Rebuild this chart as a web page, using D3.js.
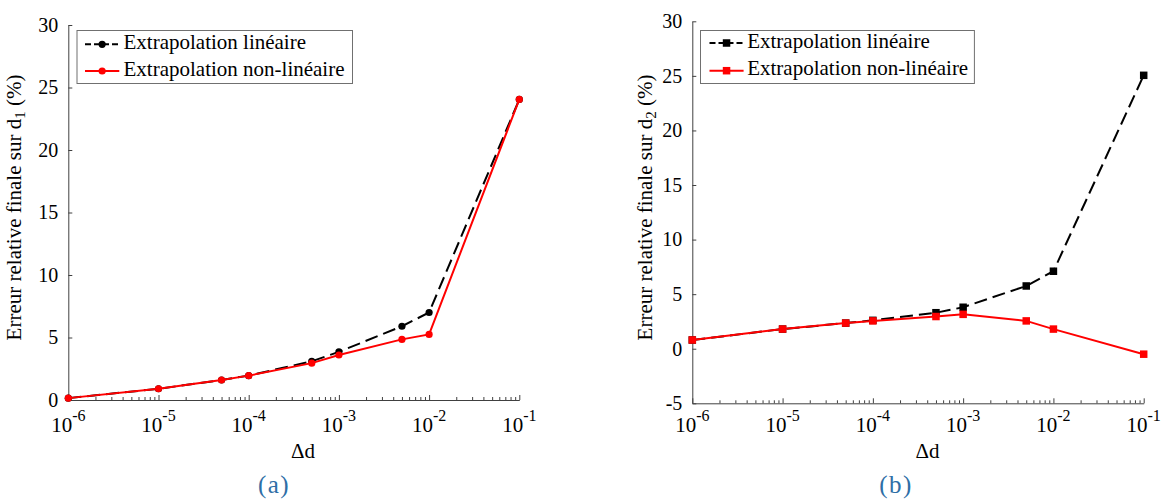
<!DOCTYPE html>
<html><head><meta charset="utf-8">
<script src="https://cdn.jsdelivr.net/npm/d3@7"></script>
</head>
<body style="margin:0;padding:0;background:#fff">
<svg id="chart" width="1163" height="501" style="display:block"></svg>
<script>
// ---- data ----
const deltaD = [1e-6, 1e-5, 5e-5, 1e-4, 5e-4, 1e-3, 5e-3, 1e-2, 1e-1];
const d1Lineaire    = [0.15, 0.9, 1.6, 1.95, 3.1, 3.85, 5.9, 7.0, 24.05];
const d1NonLineaire = [0.15, 0.9, 1.6, 1.95, 2.95, 3.6, 4.85, 5.25, 24.05];
const d2Lineaire    = [0.8, 1.8, 2.35, 2.6, 3.3, 3.8, 5.75, 7.1, 25.05];
const d2NonLineaire = [0.8, 1.8, 2.35, 2.55, 2.95, 3.15, 2.55, 1.8, -0.5];
const xTickExponents = [-6, -5, -4, -3, -2, -1];
const yTicksA = [0, 5, 10, 15, 20, 25, 30];
const yTicksB = [-5, 0, 5, 10, 15, 20, 25, 30];
const legendLabels = ["Extrapolation linéaire", "Extrapolation non-linéaire"];
const panelCaptions = ["(a)", "(b)"];
const xTitle = "Δd";

const FONT = "Liberation Serif";
const svg = d3.select("#chart");
svg.append("rect").attr("width",1163).attr("height",501).attr("fill","#fff");

const RED = "#ff0000", BLACK = "#000000", AXIS = "#404040";

function minorTicks(){
  const out=[];
  for(let e=-6;e<-1;e++){ for(let m=2;m<=9;m++) out.push(m*Math.pow(10,e)); }
  return out;
}

function panel(cfg){
  const g = svg.append("g");
  const x = d3.scaleLog().domain([1e-6,1e-1]).range(cfg.xr);
  const y = d3.scaleLinear().domain(cfg.yd).range(cfg.yr);

  // y axis
  const ya = g.append("g").attr("transform",`translate(${cfg.xr[0]},0)`)
    .call(d3.axisLeft(y).tickValues(cfg.yTicks).tickSizeInner(-4).tickSizeOuter(0).tickPadding(10).tickFormat(d=>String(d)));
  ya.attr("font-family",null).attr("font-size",null);
  ya.select(".domain").attr("stroke",AXIS);
  ya.selectAll(".tick line").attr("stroke",AXIS);
  ya.selectAll(".tick text").style("font-size","20px").attr("fill","#000");

  // x axis (major + minor ticks)
  const y0 = cfg.yr[0];
  const xa = g.append("g").attr("transform",`translate(0,${y0})`)
    .call(d3.axisBottom(x).tickValues(xTickExponents.map(e=>Math.pow(10,e))).tickSizeInner(-5).tickSizeOuter(0).tickFormat(""));
  xa.select(".domain").attr("stroke",AXIS);
  xa.selectAll(".tick line").attr("stroke",AXIS);
  xa.selectAll(".tick text").remove();
  const xm = g.append("g").attr("transform",`translate(0,${y0})`)
    .call(d3.axisBottom(x).tickValues(minorTicks()).tickSizeInner(-3).tickSizeOuter(0).tickFormat(""));
  xm.select(".domain").remove();
  xm.selectAll(".tick line").attr("stroke",AXIS);
  xm.selectAll(".tick text").remove();

  // x tick labels 10^e
  xTickExponents.forEach(e=>{
    const t = g.append("text").attr("x",x(Math.pow(10,e))).attr("y",431.5)
      .attr("text-anchor","middle").style("font-size","21px");
    t.append("tspan").text("10");
    t.append("tspan").attr("dy",-11).style("font-size","16px").text(String(e));
  });

  // axis titles
  g.append("text").attr("x",cfg.xTitleX).attr("y",458).attr("text-anchor","middle")
    .style("font-size","21px").text(xTitle);
  const yt = g.append("text").attr("transform",`translate(${cfg.yTitleX},207.5) rotate(-90)`)
    .attr("text-anchor","middle").style("font-size","21px");
  yt.append("tspan").text("Erreur relative finale sur d");
  yt.append("tspan").style("font-size","15px").attr("dy",4).text(cfg.sub);
  yt.append("tspan").attr("dy",-4).text(" (%)");

  // caption
  g.append("text").attr("x",cfg.capX).attr("y",493).attr("text-anchor","middle")
    .style("font-size","25px").attr("letter-spacing",1.5).attr("fill","#2e6ea6").text(cfg.caption);

  // series
  const line = d3.line().x((d,i)=>x(deltaD[i])).y(d=>y(d));
  const series = [
    {v:cfg.lin, color:BLACK, dash:"13,6"},
    {v:cfg.non, color:RED, dash:null}
  ];
  series.forEach(s=>{
    const p = g.append("path").datum(s.v).attr("d",line).attr("fill","none")
      .attr("stroke",s.color).attr("stroke-width",2);
    if(s.dash) p.attr("stroke-dasharray",s.dash);
    drawMarkers(g, s.v.map((d,i)=>[x(deltaD[i]),y(d)]), s.color, cfg.marker);
  });

  // legend
  const L = cfg.legend;
  g.append("rect").attr("x",L.x0).attr("y",30.5).attr("width",L.x1-L.x0).attr("height",53)
    .attr("fill","#fff").attr("stroke","#707070").attr("stroke-width",1);
  const rows = [{c:BLACK,dash:"6,3",cy:L.rows[0]},{c:RED,dash:null,cy:L.rows[1]}];
  rows.forEach((r,i)=>{
    const l = g.append("line").attr("x1",L.s0).attr("x2",L.s1).attr("y1",r.cy).attr("y2",r.cy)
      .attr("stroke",r.c).attr("stroke-width",2);
    if(r.dash) l.attr("stroke-dasharray",r.dash);
    drawMarkers(g,[[(L.s0+L.s1)/2,r.cy]],r.c,cfg.marker);
    g.append("text").attr("x",L.tx).attr("y",r.cy+4.5).style("font-size","21px").text(legendLabels[i]);
  });
}

function drawMarkers(g, pts, color, type){
  if(type==="circle"){
    g.selectAll(null).data(pts).enter().append("circle")
      .attr("cx",d=>d[0]).attr("cy",d=>d[1]).attr("r",3.6).attr("fill",color);
  } else {
    const s=7.5;
    g.selectAll(null).data(pts).enter().append("rect")
      .attr("x",d=>d[0]-s/2).attr("y",d=>d[1]-s/2).attr("width",s).attr("height",s).attr("fill",color);
  }
}

panel({xr:[68.3,519.3], yd:[0,30], yr:[400,25], yTicks:yTicksA,
  lin:d1Lineaire, non:d1NonLineaire, marker:"circle", sub:"1",
  xTitleX:303, yTitleX:21, capX:274, caption:panelCaptions[0],
  legend:{x0:77,x1:352.5,s0:85,s1:119.3,tx:123.5,rows:[44.3,71]}});
panel({xr:[692.3,1143.7], yd:[-5,30], yr:[403.3,21.3], yTicks:yTicksB,
  lin:d2Lineaire, non:d2NonLineaire, marker:"square", sub:"2",
  xTitleX:927.5, yTitleX:652, capX:896, caption:panelCaptions[1],
  legend:{x0:700.5,x1:974.4,s0:709.5,s1:743.6,tx:747.2,rows:[43,70.7]}});

svg.selectAll("text").style("font-family", FONT);
</script>
</body></html>
